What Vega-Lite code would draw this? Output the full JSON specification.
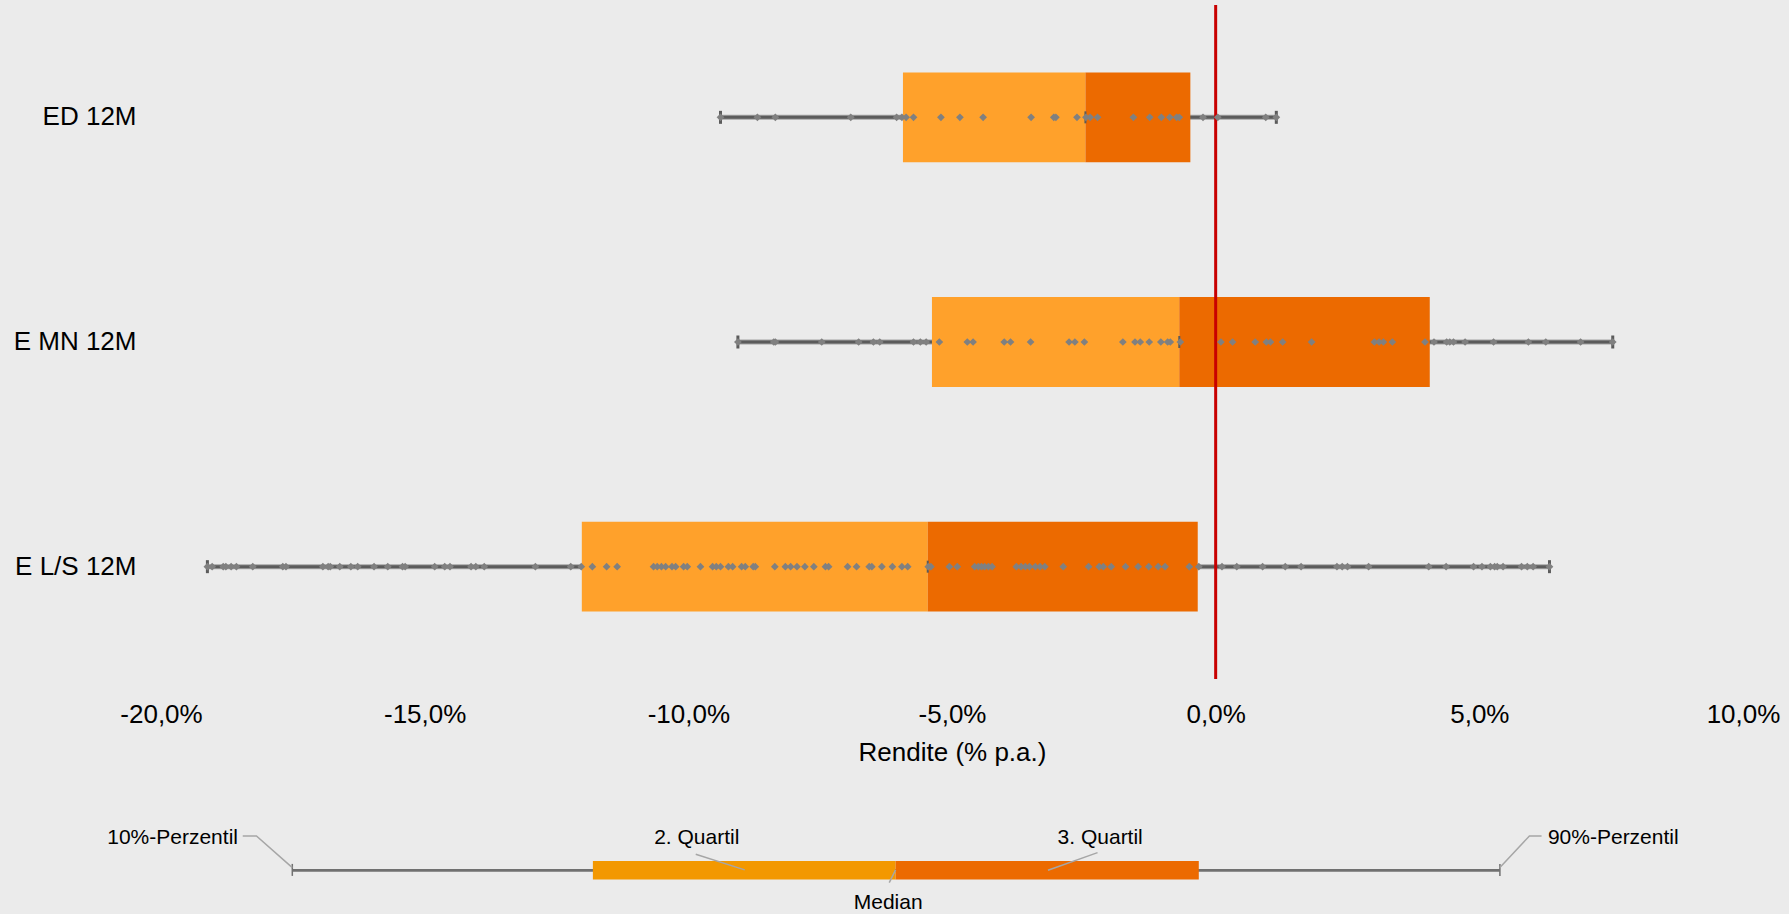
{
  "$schema": "https://vega.github.io/schema/vega-lite/v6.json",
  "background": "#EBEBEB",
  "padding": {"left": 11, "right": 9, "top": 3, "bottom": 2},
  "spacing": 60,
  "config": {"view": {"stroke": null}, "font": "Liberation Sans"},
  "datasets": {
    "stats": [
      {"c": "ED 12M", "lo": -9.39, "q1": -5.93, "med": -2.47, "q3": -0.48, "hi": 1.15},
      {"c": "E MN 12M", "lo": -9.06, "q1": -5.38, "med": -0.69, "q3": 4.06, "hi": 7.53},
      {"c": "E L/S 12M", "lo": -19.12, "q1": -12.02, "med": -5.46, "q3": -0.34, "hi": 6.33}
    ],
    "ref": [{"v": 0}],
    "dots": [
      {"c":"ED 12M","v":-9.39},{"c":"ED 12M","v":-8.69},{"c":"ED 12M","v":-8.35},{"c":"ED 12M","v":-6.92},{"c":"ED 12M","v":-6.05},{"c":"ED 12M","v":-5.95},{"c":"ED 12M","v":-5.87},{"c":"ED 12M","v":-5.73},{"c":"ED 12M","v":-5.21},{"c":"ED 12M","v":-4.85},{"c":"ED 12M","v":-4.41},{"c":"ED 12M","v":-3.50},{"c":"ED 12M","v":-3.07},{"c":"ED 12M","v":-3.03},{"c":"ED 12M","v":-2.63},{"c":"ED 12M","v":-2.46},{"c":"ED 12M","v":-2.38},{"c":"ED 12M","v":-2.24},{"c":"ED 12M","v":-1.56},{"c":"ED 12M","v":-1.25},{"c":"ED 12M","v":-1.03},{"c":"ED 12M","v":-0.87},{"c":"ED 12M","v":-0.74},{"c":"ED 12M","v":-0.69},{"c":"ED 12M","v":-0.24},{"c":"ED 12M","v":0.04},{"c":"ED 12M","v":0.95},{"c":"ED 12M","v":1.15},
      {"c":"E MN 12M","v":-9.06},{"c":"E MN 12M","v":-8.38},{"c":"E MN 12M","v":-8.35},{"c":"E MN 12M","v":-7.47},{"c":"E MN 12M","v":-6.77},{"c":"E MN 12M","v":-6.49},{"c":"E MN 12M","v":-6.37},{"c":"E MN 12M","v":-5.73},{"c":"E MN 12M","v":-5.60},{"c":"E MN 12M","v":-5.49},{"c":"E MN 12M","v":-5.24},{"c":"E MN 12M","v":-4.71},{"c":"E MN 12M","v":-4.60},{"c":"E MN 12M","v":-4.01},{"c":"E MN 12M","v":-3.89},{"c":"E MN 12M","v":-3.51},{"c":"E MN 12M","v":-2.78},{"c":"E MN 12M","v":-2.67},{"c":"E MN 12M","v":-2.49},{"c":"E MN 12M","v":-1.76},{"c":"E MN 12M","v":-1.53},{"c":"E MN 12M","v":-1.43},{"c":"E MN 12M","v":-1.26},{"c":"E MN 12M","v":-1.04},{"c":"E MN 12M","v":-0.91},{"c":"E MN 12M","v":-0.86},{"c":"E MN 12M","v":-0.67},{"c":"E MN 12M","v":0.10},{"c":"E MN 12M","v":0.32},{"c":"E MN 12M","v":0.75},{"c":"E MN 12M","v":0.96},{"c":"E MN 12M","v":1.04},{"c":"E MN 12M","v":1.27},{"c":"E MN 12M","v":1.82},{"c":"E MN 12M","v":3.01},{"c":"E MN 12M","v":3.10},{"c":"E MN 12M","v":3.18},{"c":"E MN 12M","v":3.35},{"c":"E MN 12M","v":3.97},{"c":"E MN 12M","v":4.14},{"c":"E MN 12M","v":4.38},{"c":"E MN 12M","v":4.44},{"c":"E MN 12M","v":4.51},{"c":"E MN 12M","v":4.73},{"c":"E MN 12M","v":5.27},{"c":"E MN 12M","v":5.93},{"c":"E MN 12M","v":6.26},{"c":"E MN 12M","v":6.92},{"c":"E MN 12M","v":7.53},
      {"c":"E L/S 12M","v":-19.12},{"c":"E L/S 12M","v":-19.03},{"c":"E L/S 12M","v":-18.82},{"c":"E L/S 12M","v":-18.77},{"c":"E L/S 12M","v":-18.67},{"c":"E L/S 12M","v":-18.57},{"c":"E L/S 12M","v":-18.26},{"c":"E L/S 12M","v":-17.69},{"c":"E L/S 12M","v":-17.63},{"c":"E L/S 12M","v":-16.93},{"c":"E L/S 12M","v":-16.83},{"c":"E L/S 12M","v":-16.79},{"c":"E L/S 12M","v":-16.61},{"c":"E L/S 12M","v":-16.40},{"c":"E L/S 12M","v":-16.27},{"c":"E L/S 12M","v":-15.96},{"c":"E L/S 12M","v":-15.70},{"c":"E L/S 12M","v":-15.42},{"c":"E L/S 12M","v":-15.37},{"c":"E L/S 12M","v":-14.81},{"c":"E L/S 12M","v":-14.62},{"c":"E L/S 12M","v":-14.52},{"c":"E L/S 12M","v":-14.12},{"c":"E L/S 12M","v":-14.03},{"c":"E L/S 12M","v":-13.87},{"c":"E L/S 12M","v":-12.90},{"c":"E L/S 12M","v":-12.23},{"c":"E L/S 12M","v":-12.03},{"c":"E L/S 12M","v":-11.82},{"c":"E L/S 12M","v":-11.55},{"c":"E L/S 12M","v":-11.35},{"c":"E L/S 12M","v":-10.66},{"c":"E L/S 12M","v":-10.59},{"c":"E L/S 12M","v":-10.51},{"c":"E L/S 12M","v":-10.43},{"c":"E L/S 12M","v":-10.31},{"c":"E L/S 12M","v":-10.24},{"c":"E L/S 12M","v":-10.09},{"c":"E L/S 12M","v":-10.02},{"c":"E L/S 12M","v":-9.77},{"c":"E L/S 12M","v":-9.54},{"c":"E L/S 12M","v":-9.47},{"c":"E L/S 12M","v":-9.39},{"c":"E L/S 12M","v":-9.24},{"c":"E L/S 12M","v":-9.16},{"c":"E L/S 12M","v":-8.99},{"c":"E L/S 12M","v":-8.92},{"c":"E L/S 12M","v":-8.77},{"c":"E L/S 12M","v":-8.73},{"c":"E L/S 12M","v":-8.36},{"c":"E L/S 12M","v":-8.16},{"c":"E L/S 12M","v":-8.06},{"c":"E L/S 12M","v":-7.94},{"c":"E L/S 12M","v":-7.79},{"c":"E L/S 12M","v":-7.62},{"c":"E L/S 12M","v":-7.40},{"c":"E L/S 12M","v":-7.34},{"c":"E L/S 12M","v":-6.98},{"c":"E L/S 12M","v":-6.81},{"c":"E L/S 12M","v":-6.57},{"c":"E L/S 12M","v":-6.52},{"c":"E L/S 12M","v":-6.33},{"c":"E L/S 12M","v":-6.13},{"c":"E L/S 12M","v":-5.95},{"c":"E L/S 12M","v":-5.84},{"c":"E L/S 12M","v":-5.45},{"c":"E L/S 12M","v":-5.40},{"c":"E L/S 12M","v":-5.05},{"c":"E L/S 12M","v":-4.90},{"c":"E L/S 12M","v":-4.57},{"c":"E L/S 12M","v":-4.50},{"c":"E L/S 12M","v":-4.44},{"c":"E L/S 12M","v":-4.38},{"c":"E L/S 12M","v":-4.31},{"c":"E L/S 12M","v":-4.24},{"c":"E L/S 12M","v":-3.78},{"c":"E L/S 12M","v":-3.69},{"c":"E L/S 12M","v":-3.61},{"c":"E L/S 12M","v":-3.53},{"c":"E L/S 12M","v":-3.42},{"c":"E L/S 12M","v":-3.33},{"c":"E L/S 12M","v":-3.24},{"c":"E L/S 12M","v":-2.89},{"c":"E L/S 12M","v":-2.41},{"c":"E L/S 12M","v":-2.21},{"c":"E L/S 12M","v":-2.13},{"c":"E L/S 12M","v":-1.98},{"c":"E L/S 12M","v":-1.71},{"c":"E L/S 12M","v":-1.47},{"c":"E L/S 12M","v":-1.27},{"c":"E L/S 12M","v":-1.09},{"c":"E L/S 12M","v":-0.96},{"c":"E L/S 12M","v":-0.50},{"c":"E L/S 12M","v":-0.32},{"c":"E L/S 12M","v":0.12},{"c":"E L/S 12M","v":0.40},{"c":"E L/S 12M","v":0.89},{"c":"E L/S 12M","v":1.32},{"c":"E L/S 12M","v":1.62},{"c":"E L/S 12M","v":2.30},{"c":"E L/S 12M","v":2.40},{"c":"E L/S 12M","v":2.50},{"c":"E L/S 12M","v":2.90},{"c":"E L/S 12M","v":4.04},{"c":"E L/S 12M","v":4.37},{"c":"E L/S 12M","v":4.89},{"c":"E L/S 12M","v":5.05},{"c":"E L/S 12M","v":5.21},{"c":"E L/S 12M","v":5.29},{"c":"E L/S 12M","v":5.34},{"c":"E L/S 12M","v":5.45},{"c":"E L/S 12M","v":5.80},{"c":"E L/S 12M","v":5.91},{"c":"E L/S 12M","v":6.02},{"c":"E L/S 12M","v":6.33}
    ],
    "lgstats": [{"lo": -17.51, "q1": -11.81, "med": -6.07, "q3": -0.32, "hi": 5.39}],
    "lglabels": [
      {"t": "10%-Perzentil", "x": -19.78, "y": 12.1},
      {"t": "2. Quartil", "x": -9.84, "y": 12.1},
      {"t": "3. Quartil", "x": -2.19, "y": 12.1},
      {"t": "90%-Perzentil", "x": 7.54, "y": 12.1},
      {"t": "Median", "x": -6.21, "y": 76.5}
    ],
    "lglines": [
      {"g": "p10", "o": 1, "x": -18.45, "y": 9.9},
      {"g": "p10", "o": 2, "x": -18.19, "y": 9.9},
      {"g": "p10", "o": 3, "x": -17.51, "y": 41.6},
      {"g": "p90", "o": 1, "x": 5.39, "y": 41.6},
      {"g": "p90", "o": 2, "x": 5.95, "y": 9.9},
      {"g": "p90", "o": 3, "x": 6.18, "y": 9.9},
      {"g": "q2", "o": 1, "x": -9.86, "y": 28.2},
      {"g": "q2", "o": 2, "x": -8.93, "y": 43.9},
      {"g": "q3", "o": 1, "x": -2.24, "y": 26.6},
      {"g": "q3", "o": 2, "x": -3.18, "y": 44.2},
      {"g": "md", "o": 1, "x": -6.07, "y": 43.9},
      {"g": "md", "o": 2, "x": -6.19, "y": 56.6}
    ]
  },
  "vconcat": [
    {
      "width": 1582,
      "height": 674,
      "layer": [
        {
          "data": {"name": "stats"},
          "mark": {"type": "rule", "color": "#A3A3A3", "strokeWidth": 5},
          "encoding": {
            "x": {"field": "lo", "type": "quantitative", "scale": {"domain": [-20, 10], "nice": false},
              "axis": {"values": [-20, -15, -10, -5, 0, 5, 10],
                "labelExpr": "(datum.value < 0 ? '-' : '') + replace(format(abs(datum.value), '.1f'), '.', ',') + '%'",
                "title": "Rendite (% p.a.)", "titleFontSize": 26, "titleFontWeight": "normal", "titleColor": "#000000", "titleFont": "Liberation Sans", "titlePadding": 12.5,
                "labelFontSize": 26, "labelColor": "#000000", "labelFont": "Liberation Sans", "labelPadding": 22, "labelFlush": false,
                "ticks": false, "tickSize": 0, "domain": false, "grid": false}},
            "x2": {"field": "hi"},
            "y": {"field": "c", "type": "nominal", "sort": ["ED 12M", "E MN 12M", "E L/S 12M"],
              "scale": {"paddingInner": 0.6, "paddingOuter": 0.3},
              "axis": {"title": null, "domain": false, "ticks": false, "tickSize": 0, "grid": false, "labelPadding": 25, "labelFontSize": 26, "labelColor": "#000000", "labelFont": "Liberation Sans", "minExtent": 150, "maxExtent": 150, "labelLimit": 400}}
          }
        },
        {
          "data": {"name": "stats"},
          "mark": {"type": "rule", "color": "#5B5B5B", "strokeWidth": 3},
          "encoding": {
            "x": {"field": "lo", "type": "quantitative"},
            "x2": {"field": "hi"},
            "y": {"field": "c", "type": "nominal", "sort": ["ED 12M", "E MN 12M", "E L/S 12M"]}
          }
        },
        {
          "data": {"name": "stats"},
          "mark": {"type": "bar", "color": "#FFA12B"},
          "encoding": {
            "x": {"field": "q1", "type": "quantitative"},
            "x2": {"field": "med"},
            "y": {"field": "c", "type": "nominal", "sort": ["ED 12M", "E MN 12M", "E L/S 12M"]}
          }
        },
        {
          "data": {"name": "stats"},
          "mark": {"type": "bar", "color": "#EC6A00"},
          "encoding": {
            "x": {"field": "med", "type": "quantitative"},
            "x2": {"field": "q3"},
            "y": {"field": "c", "type": "nominal", "sort": ["ED 12M", "E MN 12M", "E L/S 12M"]}
          }
        },
        {
          "data": {"name": "ref"},
          "mark": {"type": "rule", "color": "#C80000", "strokeWidth": 3},
          "encoding": {"x": {"field": "v", "type": "quantitative"}}
        },
        {
          "data": {"name": "stats"},
          "mark": {"type": "tick", "color": "#5B5B5B", "size": 13, "thickness": 3, "opacity": 1},
          "encoding": {
            "x": {"field": "lo", "type": "quantitative"},
            "y": {"field": "c", "type": "nominal", "sort": ["ED 12M", "E MN 12M", "E L/S 12M"]}
          }
        },
        {
          "data": {"name": "stats"},
          "mark": {"type": "tick", "color": "#5B5B5B", "size": 13, "thickness": 3, "opacity": 1},
          "encoding": {
            "x": {"field": "hi", "type": "quantitative"},
            "y": {"field": "c", "type": "nominal", "sort": ["ED 12M", "E MN 12M", "E L/S 12M"]}
          }
        },
        {
          "data": {"name": "stats"},
          "mark": {"type": "tick", "color": "#5B5B5B", "size": 12, "thickness": 2, "opacity": 1},
          "encoding": {
            "x": {"field": "med", "type": "quantitative"},
            "y": {"field": "c", "type": "nominal", "sort": ["ED 12M", "E MN 12M", "E L/S 12M"]}
          }
        },
        {
          "data": {"name": "dots"},
          "mark": {"type": "point", "shape": "diamond", "filled": true, "color": "#808080", "opacity": 1, "size": 60},
          "encoding": {
            "x": {"field": "v", "type": "quantitative"},
            "y": {"field": "c", "type": "nominal", "sort": ["ED 12M", "E MN 12M", "E L/S 12M"]}
          }
        }
      ]
    },
    {
      "width": 1582,
      "height": 87,
      "layer": [
        {
          "data": {"name": "lgstats"},
          "mark": {"type": "rule", "color": "#707070", "strokeWidth": 2.8},
          "encoding": {
            "x": {"field": "lo", "type": "quantitative", "scale": {"domain": [-20, 10], "nice": false}, "axis": null},
            "x2": {"field": "hi"},
            "y": {"datum": 44.3, "type": "quantitative", "scale": {"domain": [0, 87], "reverse": true, "nice": false, "zero": false},
              "axis": {"minExtent": 150, "maxExtent": 150, "labels": false, "ticks": false, "domain": false, "grid": false, "title": null}}
          }
        },
        {
          "data": {"name": "lgstats"},
          "mark": {"type": "rule", "color": "#707070", "strokeWidth": 1.5},
          "encoding": {
            "x": {"field": "lo", "type": "quantitative"},
            "y": {"datum": 37.9, "type": "quantitative"},
            "y2": {"datum": 49.9}
          }
        },
        {
          "data": {"name": "lgstats"},
          "mark": {"type": "rule", "color": "#707070", "strokeWidth": 1.5},
          "encoding": {
            "x": {"field": "hi", "type": "quantitative"},
            "y": {"datum": 37.9, "type": "quantitative"},
            "y2": {"datum": 49.9}
          }
        },
        {
          "data": {"name": "lgstats"},
          "mark": {"type": "bar", "color": "#F39800"},
          "encoding": {
            "x": {"field": "q1", "type": "quantitative"},
            "x2": {"field": "med"},
            "y": {"datum": 34.9, "type": "quantitative"},
            "y2": {"datum": 53.6}
          }
        },
        {
          "data": {"name": "lgstats"},
          "mark": {"type": "bar", "color": "#EC6A00"},
          "encoding": {
            "x": {"field": "med", "type": "quantitative"},
            "x2": {"field": "q3"},
            "y": {"datum": 34.9, "type": "quantitative"},
            "y2": {"datum": 53.6}
          }
        },
        {
          "data": {"name": "lglines"},
          "mark": {"type": "line", "color": "#A6A6A6", "strokeWidth": 1.5},
          "encoding": {
            "x": {"field": "x", "type": "quantitative"},
            "y": {"field": "y", "type": "quantitative"},
            "detail": {"field": "g"},
            "order": {"field": "o"}
          }
        },
        {
          "data": {"name": "lglabels"},
          "mark": {"type": "text", "fontSize": 21, "color": "#000000", "align": "center", "baseline": "middle", "font": "Liberation Sans"},
          "encoding": {
            "x": {"field": "x", "type": "quantitative"},
            "y": {"field": "y", "type": "quantitative"},
            "text": {"field": "t"}
          }
        }
      ]
    }
  ]
}
